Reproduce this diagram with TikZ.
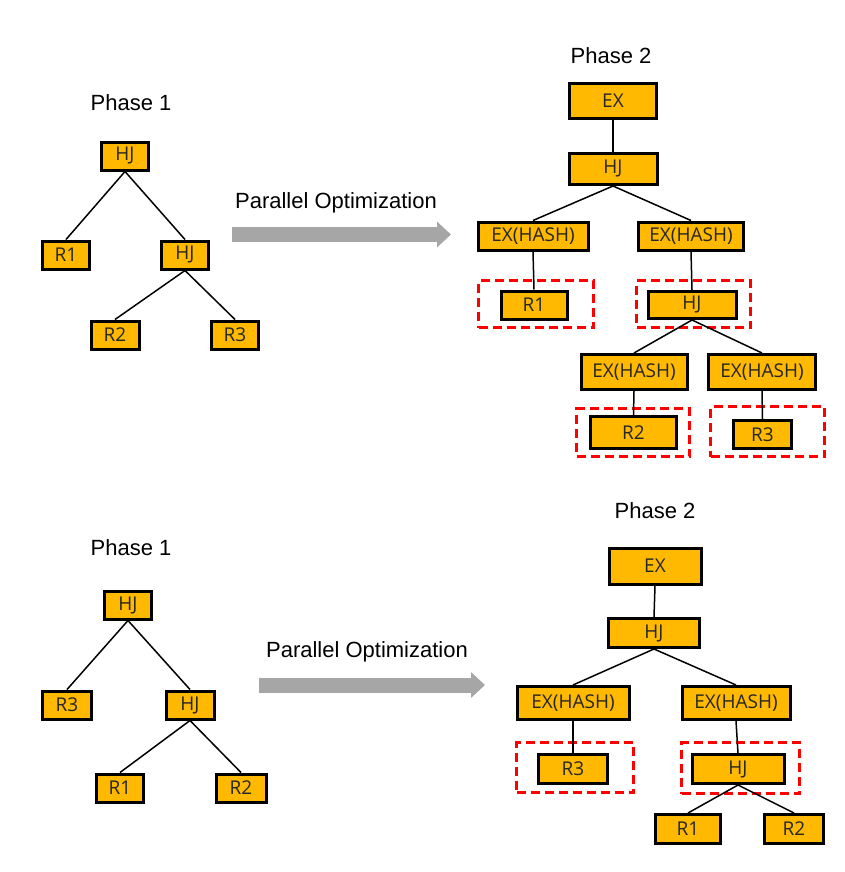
\documentclass[tikz,border=0pt]{standalone}
\usepackage{fontspec}
\setmainfont{Liberation Sans}
\newfontfamily\opfont{Open Sans}
\usetikzlibrary{arrows.meta}
\definecolor{opfill}{HTML}{FFB900}
\definecolor{flowgray}{HTML}{A6A6A6}
\tikzset{
  op/.style={draw=black, line width=3pt, fill=opfill, inner sep=0pt,
    text=black!85, font=\opfont\fontsize{19}{19}\selectfont},
  stagebox/.style={draw=red, line width=2.6pt, dash pattern=on 9pt off 5pt},
  phase/.style={font=\fontsize{22}{22}\selectfont},
  flow/.style={draw=flowgray, line width=15pt,
    -{Triangle[width=25pt,length=14pt]}, flowgray}
}
\begin{document}
\begin{tikzpicture}[x=1pt,y=-1pt]
      \useasboundingbox (0,0) rectangle (845,872);
      % upper plan
      \node[phase] (ph1) at (131,103) {Phase 1};
      \node[phase] (ph2) at (611,56) {Phase 2};
      \node[phase] (opt) at (336,203) {Parallel Optimization};
      \coordinate (fs) at (232,234.5);
      \coordinate (fe) at (451,234.5);
      \draw[flow] (fs) -- (fe);
      \draw
        (125,156) node[op, minimum width=47, minimum height=28] (0){HJ}
        (66,255) node[op, minimum width=47, minimum height=28] (1){R1}
        (185,255) node[op, minimum width=47, minimum height=28] (2){HJ}
        (115,335) node[op, minimum width=48, minimum height=28] (3){R2}
        (235,335) node[op, minimum width=47, minimum height=28] (4){R3};
      \draw
        (536,304) node[stagebox, minimum width=115, minimum height=47] (s1){}
        (693.5,304) node[stagebox, minimum width=114, minimum height=47] (s2){}
        (633,432.5) node[stagebox, minimum width=113, minimum height=48] (s3){}
        (767.5,431.5) node[stagebox, minimum width=114, minimum height=50] (s4){};
      \draw
        (613,101) node[op, minimum width=87, minimum height=35] (5){EX}
        (613,169) node[op, minimum width=88, minimum height=31] (6){HJ}
        (533,236) node[op, minimum width=110, minimum height=28] (7){EX(HASH)}
        (691,236) node[op, minimum width=105, minimum height=28] (8){EX(HASH)}
        (534,305) node[op, minimum width=66, minimum height=28] (9){R1}
        (692,305) node[op, minimum width=88, minimum height=27] (10){HJ}
        (634,372) node[op, minimum width=106, minimum height=35] (11){EX(HASH)}
        (762,372) node[op, minimum width=107, minimum height=35] (12){EX(HASH)}
        (633.5,432.5) node[op, minimum width=86, minimum height=32] (13){R2}
        (762.5,434.5) node[op, minimum width=58, minimum height=28] (14){R3};
      \begin{scope}[line width=1.5pt]
        \draw (0.south) to (1.north);
        \draw (0.south) to (2.north);
        \draw (2.south) to (3.north);
        \draw (2.south) to (4.north);
        \draw (5.south) to (6.north);
        \draw (6.south) to (7.north);
        \draw (6.south) to (8.north);
        \draw (7.south) to (9.north);
        \draw (8.south) to (10.north);
        \draw (10.south) to (11.north);
        \draw (10.south) to (12.north);
        \draw (11.south) to (13.north);
        \draw (12.south) to (14.north);
      \end{scope}
      % lower plan
      \node[phase] (ph3) at (131,548) {Phase 1};
      \node[phase] (ph4) at (655,511) {Phase 2};
      \node[phase] (opt2) at (367,652) {Parallel Optimization};
      \coordinate (gs) at (259,685);
      \coordinate (ge) at (485,685);
      \draw[flow] (gs) -- (ge);
      \draw
        (128,605) node[op, minimum width=47, minimum height=28] (20){HJ}
        (67,705) node[op, minimum width=49, minimum height=28] (21){R3}
        (190,705) node[op, minimum width=48, minimum height=28] (22){HJ}
        (120,788) node[op, minimum width=47, minimum height=28] (23){R1}
        (241,788) node[op, minimum width=50, minimum height=28] (24){R2};
      \draw
        (575,767.5) node[stagebox, minimum width=117, minimum height=50] (s5){}
        (740.5,768) node[stagebox, minimum width=118, minimum height=51] (s6){};
      \draw
        (655,566) node[op, minimum width=92, minimum height=36] (25){EX}
        (654,633) node[op, minimum width=91, minimum height=29] (26){HJ}
        (573,703) node[op, minimum width=112, minimum height=33] (27){EX(HASH)}
        (736,703) node[op, minimum width=108, minimum height=33] (28){EX(HASH)}
        (573,769) node[op, minimum width=69, minimum height=29] (29){R3}
        (738,769) node[op, minimum width=92, minimum height=29] (30){HJ}
        (688,829) node[op, minimum width=65, minimum height=29] (31){R1}
        (794,829) node[op, minimum width=59, minimum height=29] (32){R2};
      \begin{scope}[line width=1.5pt]
        \draw (20.south) to (21.north);
        \draw (20.south) to (22.north);
        \draw (22.south) to (23.north);
        \draw (22.south) to (24.north);
        \draw (25.south) to (26.north);
        \draw (26.south) to (27.north);
        \draw (26.south) to (28.north);
        \draw (27.south) to (29.north);
        \draw (28.south) to (30.north);
        \draw (30.south) to (31.north);
        \draw (30.south) to (32.north);
      \end{scope}
    \end{tikzpicture}
\end{document}
